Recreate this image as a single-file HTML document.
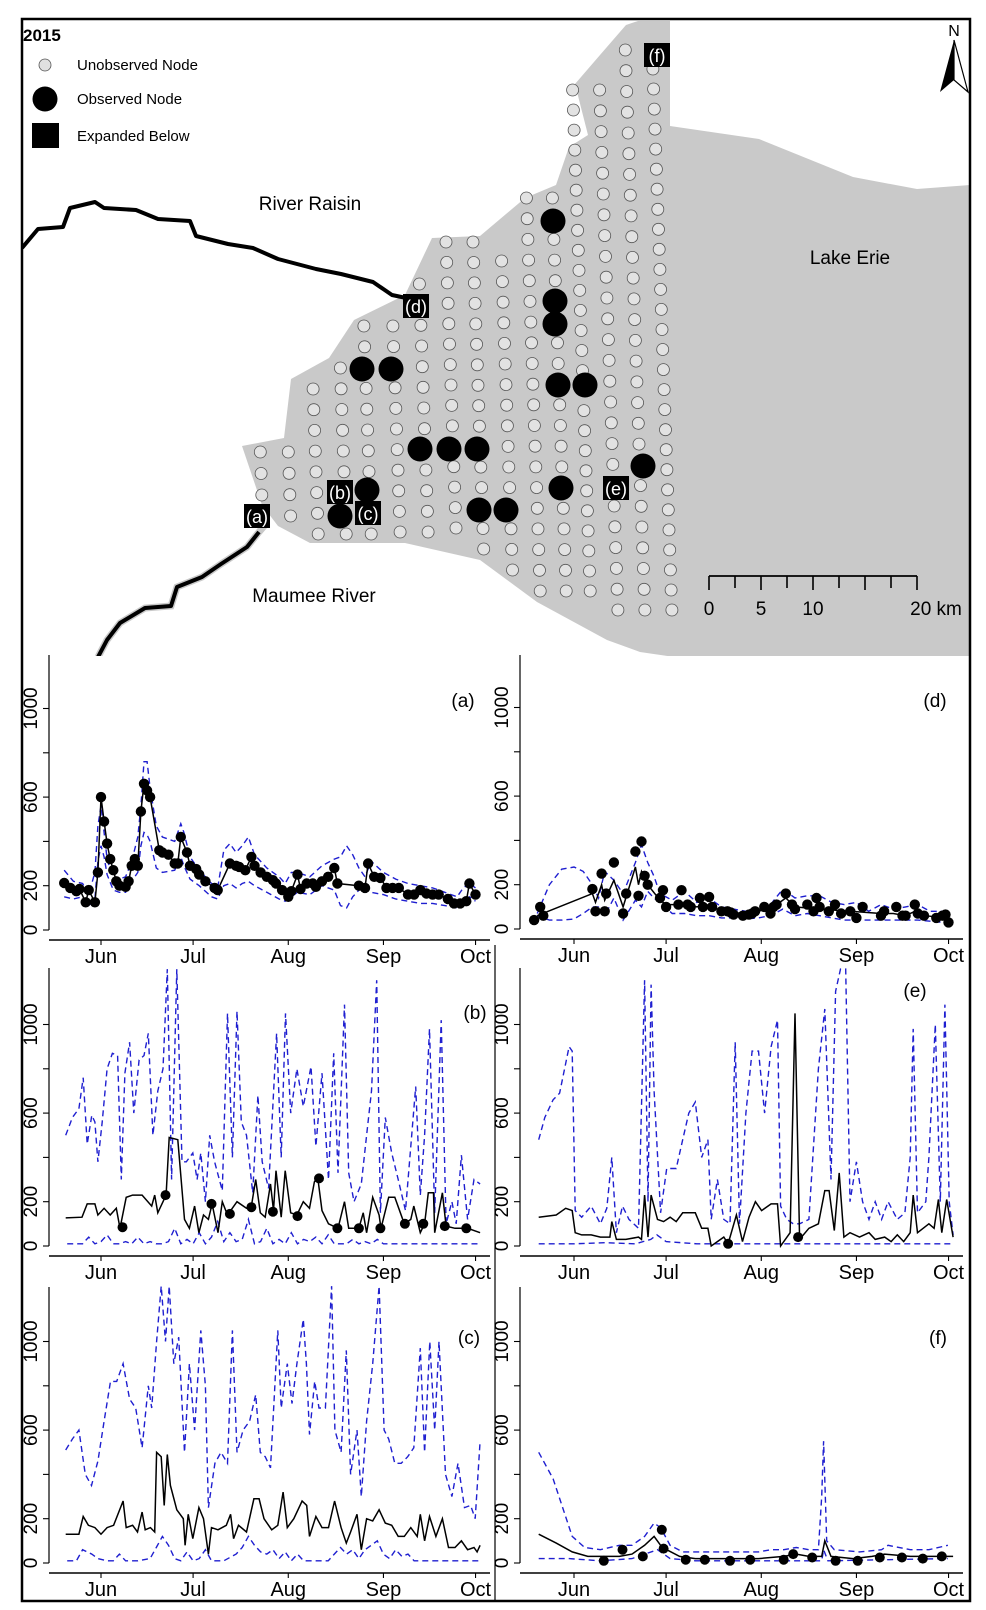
<!DOCTYPE html>
<html><head><meta charset="utf-8">
<style>
html,body{margin:0;padding:0;background:#fff;}
svg{display:block;font-family:"Liberation Sans",sans-serif;}
</style></head>
<body>
<svg id="fig" width="986" height="1610" viewBox="0 0 986 1610" xmlns="http://www.w3.org/2000/svg">
  <defs>
    <clipPath id="mapclip"><rect x="22" y="19" width="948" height="637"/></clipPath>
  </defs>
  <g id="map" clip-path="url(#mapclip)">
    <polygon fill="#c9c9c9" points="626,25 638,21 670,21 670,126 759,139 853,177 917,189 970,185 970,660 695,660 640,652 607,640 537,602 480,560 405,543 354,543 310,543 278,526 262,505 242,446 284,438 291,379 329,358 354,320 405,295 432,238 480,236 525,198 556,185 569,147 588,135 575,84 600,55"/>
    <polyline fill="none" stroke="#c9c9c9" stroke-width="7" points="265,525 259,532 247,547 221,564 202,577 177,587 171,606 145,608 120,623 107,640 98,657"/>
    <polyline fill="none" stroke="#000" stroke-width="4" stroke-linejoin="round" points="22,248 38,229 63,227 70,208 95,202 104,208 136,210 158,219 190,221 196,236 228,244 253,248 278,259 316,269 341,274 373,282 392,295 411,299"/>
    <polyline fill="none" stroke="#000" stroke-width="4" stroke-linejoin="round" points="259,532 247,547 221,564 202,577 177,587 171,606 145,608 120,623 107,640 98,657"/>
    <g id="nodes"></g>
    <g id="labels"></g>
    <text x="23" y="41" font-size="17" font-weight="bold">2015</text>
    <circle cx="45" cy="65" r="6" fill="#e0e0e0" stroke="#555" stroke-width="0.8"/>
    <text x="77" y="70" font-size="15">Unobserved Node</text>
    <circle cx="45" cy="99" r="12.5" fill="#000"/>
    <text x="77" y="104" font-size="15">Observed Node</text>
    <rect x="32" y="123" width="27" height="25" fill="#000"/>
    <text x="77" y="141" font-size="15">Expanded Below</text>
    <text x="310" y="210" font-size="19" text-anchor="middle">River Raisin</text>
    <text x="850" y="264" font-size="19" text-anchor="middle">Lake Erie</text>
    <text x="314" y="602" font-size="19" text-anchor="middle">Maumee River</text>
    <g>
      <line x1="709" y1="576" x2="917" y2="576" stroke="#000" stroke-width="1.8"/>
      <g id="scaleticks"></g>
      <text x="709" y="615" font-size="19" text-anchor="middle">0</text>
      <text x="761" y="615" font-size="19" text-anchor="middle">5</text>
      <text x="813" y="615" font-size="19" text-anchor="middle">10</text>
      <text x="936" y="615" font-size="19" text-anchor="middle">20 km</text>
    </g>
    <g>
      <text x="954" y="36" font-size="16" text-anchor="middle">N</text>
      <polygon points="954,40 940,92 954,80" fill="#000"/>
      <polygon points="954,40 968,92 954,80" fill="#fff" stroke="#000" stroke-width="1.2"/>
    </g>
  </g>
  <g id="charts"></g>
  <line x1="495" y1="945" x2="495" y2="1601" stroke="#000" stroke-width="1.2"/>
  <rect x="22" y="19" width="948" height="1582" fill="none" stroke="#000" stroke-width="2.5"/>
</svg>
<script>
// ---------- chart data (day 0 = Jun 1) ----------
const monthLabels = ["Jun","Jul","Aug","Sep","Oct"];
const monthDays = [0,30,61,92,122];
const yTickValues = [0,200,400,600,800,1000];
const yTickLabels = ["0","200","","600","","1000"];

// (a)
const aDays=[-12,-10,-8,-7,-5,-4,-2,-1,0,1,2,3,4,5,6,8,9,10,11,12,13,14,15,16,19,20,22,24,25,26,28,29,31,32,34,37,38,42,44,45,47,49,50,52,54,56,57,59,61,62,64,65,67,69,70,72,74,76,77,84,86,87,89,91,93,95,97,100,102,104,106,108,110,113,115,117,119,120,122];
const aVals=[212,190,175,185,125,180,125,260,600,490,390,320,270,220,200,195,220,290,320,290,535,660,630,600,360,350,340,300,300,420,350,290,275,250,220,190,180,300,290,285,270,330,290,260,240,225,210,180,150,175,250,185,210,210,195,220,240,280,210,200,190,300,240,235,190,190,190,160,160,180,165,160,160,140,120,120,130,210,160];
const aBandDays=[-12,-9,-6,-4,-2,-1,0,1,2,4,6,8,10,12,13,14,15,16,18,20,24,26,27,29,32,36,38,40,42,44,46,48,50,54,58,60,62,64,68,72,76,78,80,82,84,86,88,92,96,100,104,108,112,116,118,120,122];
const aUp=[270,220,210,160,260,470,560,440,320,230,230,240,310,420,560,760,760,640,470,420,400,480,440,330,270,210,190,360,390,350,380,420,340,280,240,210,260,260,240,290,320,330,380,340,280,240,310,260,230,210,200,190,170,150,190,210,190];
const aLo=[150,140,150,110,140,310,380,330,250,180,170,170,220,260,380,440,430,400,280,260,270,330,290,230,200,150,140,200,210,190,210,220,200,170,140,130,150,170,160,200,180,110,100,150,180,200,170,160,140,130,120,120,110,100,110,150,130];

// (d)
const dLineDays=[-12,6,7,9,10,13,16,20,21,22,24,28,30,35,40,44,48,55,60,65,69,72,80,90,100,104,108,111,114,122];
const dLine=[60,160,120,200,130,220,100,280,200,260,200,130,110,110,100,110,80,70,80,100,140,100,90,80,70,70,60,80,60,50];
const dDays=[-13,-11,-10,6,7,9,10,10.5,13,16,17,20,21,22,23,24,28,29,30,34,35,37,38,41,42,44,45,48,50,51,52,55,57,58,59,62,64,65,66,69,71,72,76,78,79,80,83,85,87,90,92,94,100,101,105,107,108,111,112,114,118,120,121,122];
const dVals=[40,100,60,180,80,250,80,160,300,70,160,350,150,395,240,200,140,175,100,110,175,110,100,140,100,145,100,80,80,75,65,60,65,70,80,100,70,100,110,160,110,90,110,80,140,100,80,110,70,80,50,100,60,80,100,60,60,110,70,60,50,60,65,30];
const dBandDays=[-12,-8,-4,0,3,6,8,10,13,16,20,22,24,26,28,32,36,40,44,48,52,56,60,64,68,72,76,80,84,88,92,96,100,104,108,112,116,120,122];
const dUp=[70,200,270,280,260,200,140,260,220,160,300,380,300,240,160,130,170,120,140,100,90,80,100,110,180,140,150,150,120,110,120,80,110,90,100,110,80,80,60];
const dLo=[60,40,40,45,70,100,100,60,140,40,130,100,170,140,120,70,70,60,60,50,50,45,50,60,90,60,70,60,50,40,40,40,40,40,40,40,35,30,25];

// (b)
const bDays=[-11.5,-6.2,-4.5,-2,-1,1,3,5,6.2,8.2,10.3,13.4,16.5,17.5,18.5,21.2,22.2,25,27.2,28.8,30.5,31.9,33.4,35,36.2,38.1,39.5,41.2,44.3,47.4,49,50.4,51.9,53.5,55.2,56.2,57,58.7,60,61.8,63.8,65.9,67.9,69.5,70.6,72,74.1,77.2,79.3,80.7,84,85.4,86.5,88.5,90.6,91.2,93.7,95.7,98.8,100.9,101.9,104,105.4,106.6,108.3,108.7,111.2,112.4,115.3,119.4,123.5];
const bVals=[127,130,190,190,140,170,140,170,80,220,230,230,180,230,150,230,490,480,120,80,180,60,140,120,190,60,200,140,200,170,180,300,150,130,280,160,340,130,340,150,140,200,170,290,310,160,100,80,200,80,80,150,60,220,140,80,220,220,100,120,180,60,100,240,240,60,240,90,80,80,60];
const bObsDays=[7,21,36,42,49,56,64,71,77,84,91,99,105,112,119];
const bObs=[85,230,190,145,175,155,135,305,80,80,80,100,100,90,80];
const bUpDays=[-11.5,-9.3,-7.2,-5.8,-4.5,-3,-2,-1,0.4,2,3.7,5.4,6.6,7.8,9.3,10.7,12.4,14,15.4,16.9,18.5,20.2,21.6,23,24.7,26.4,27.8,29.9,31.3,32.5,34,35.4,37,39.5,41.2,42.8,44.3,45.7,47.4,49.4,51.1,52.5,54.6,57.2,58.7,60.1,61.8,63.8,65.9,68.4,70,72,74.1,75.8,77.2,79.3,80.7,82.4,84.8,86.5,88.1,89.8,91,92.6,94.7,96.8,99.2,100.9,102.5,104,105.4,107,108.7,110.8,112.4,114.3,115.7,117.4,119.4,121.5,123.5];
const bUp=[500,580,620,760,460,590,560,380,560,800,870,860,300,780,920,600,840,860,960,500,700,800,1250,300,1250,380,380,420,300,420,200,500,380,250,1050,400,1060,560,500,240,680,380,260,960,400,1050,600,800,630,810,450,780,300,870,330,1090,330,200,280,500,700,1200,150,580,420,300,160,450,720,230,500,980,150,1020,100,200,100,410,120,300,280];
const bLoDays=[-11,-6,-4,-2,0,2,4,6,8,10,12,14,16,18,20,22,24,26,28,30,32,34,36,38,40,42,44,46,48,50,52,54,56,58,60,62,64,66,68,70,72,74,76,80,82,84,86,88,90,92,96,100,104,108,112,116,120,123];
const bLo=[10,10,40,10,20,50,10,10,20,10,40,10,20,10,10,20,80,10,30,10,60,10,40,110,20,60,20,30,120,10,20,80,10,30,10,60,10,30,20,40,10,50,10,10,30,10,20,10,30,10,10,10,10,10,10,10,10,10];

// (e)
const eDays=[-11.5,-5.8,-2.7,-0.6,0.4,2.5,5.6,8.6,11.7,12.3,13.8,16.9,21,22,23,24.1,25.1,27.2,29.2,31.3,33.3,35.4,37.4,39.5,41.6,43.6,44.7,46.7,48.8,50.2,52.9,54.9,57,59.1,61.1,64.2,66.3,67.3,70.4,72,73.5,76.5,79.6,81.7,83.1,84.8,86.4,87.9,89.9,93,96.1,98.1,101.2,103.3,105.3,107.4,109.5,110.5,111.9,115.6,117.3,118.7,119.8,121.4,123.5];
const eVals=[130,140,170,160,60,50,50,40,40,110,30,30,40,30,230,40,230,120,110,130,110,150,150,150,80,80,0,20,40,10,140,20,130,200,160,190,190,0,60,1050,30,80,100,250,250,70,330,40,60,40,60,30,40,20,50,20,60,230,60,100,80,210,60,210,40];
const eObsDays=[50.2,73];
const eObs=[10,40];
const eUpDays=[-11.5,-9.5,-6.8,-4.7,-1.6,-0.6,0.4,2.5,5.6,8.6,10.7,12.3,13.8,15.8,17.9,21,23,24.1,25.1,26.1,28.2,30.2,33.3,35.4,37.4,39.5,41.6,43.6,44.7,46.7,48.8,50.8,52.5,53.9,56,58,60.1,62.1,64.2,66.3,67.3,69.3,71.4,73.5,76.5,79.6,81.7,83.7,85.2,86.8,88.5,89.9,92,94,96.1,98.1,100.2,102.3,105.3,107.8,109.5,110.5,111.9,114.6,115.6,117.7,119.3,120.8,122.2,123.5];
const eUp=[480,580,660,690,900,880,160,130,180,100,170,400,60,180,120,80,1200,200,1180,700,150,350,350,480,600,650,400,480,120,300,120,100,920,100,600,880,880,600,900,1020,180,120,100,100,120,800,1070,300,1150,1250,1250,200,380,200,120,200,120,200,120,150,400,980,150,200,400,1000,200,1090,200,50];
const eLoDays=[-11.5,0,10,20,25,27,30,40,60,80,100,123.5];
const eLo=[10,10,15,10,30,50,20,10,10,10,10,10];

// (c)
const cDays=[-11.5,-7.2,-5.8,-4.1,-2,0,2,4.1,7.2,8.2,10.3,11.9,13.4,14.4,16.1,17.5,18.1,19.6,20.6,21.6,22.6,24.7,26.8,27.4,28.4,29.9,31.9,33.4,35,36,38.1,40.8,42.2,43.2,44.8,47.4,49.8,51.5,53.1,55.6,57.6,59.3,60.7,62.8,65.5,67,67.9,70,72,74.1,76.1,78.2,79.9,81.3,83.4,84.8,86.5,88.5,90.6,92.6,94.7,96.8,98.8,100.9,103,104,105.4,107,109.1,111.2,113.2,115.3,117.4,119.4,121.5,122.5,123.5];
const cVals=[130,130,210,170,160,130,160,170,280,160,170,140,230,150,160,140,500,480,260,490,350,240,200,80,220,110,250,200,40,160,150,170,220,110,170,140,290,290,200,150,170,320,160,200,280,260,120,210,160,160,280,160,90,140,220,60,200,190,240,180,170,120,120,160,120,220,100,210,120,200,70,70,100,60,70,50,80];
const cUpDays=[-11.5,-9.3,-7.2,-5.1,-3.1,-1,1,3.1,5.1,7.2,9.3,11.3,13.4,15.4,16.5,18.1,19.6,21,22.2,23.7,25.3,27.2,28.8,30.5,32.5,34,35,37.1,39.1,41.2,42.8,44.3,46.3,48.4,50.4,51.9,53.5,55.2,57.6,58.7,60.7,62.2,63.8,65.9,66.9,67.9,69.6,71,73.1,75.1,76.2,78.2,79.9,81.3,83.4,84.8,86.5,88.5,90.6,92.2,93.7,95.7,97.8,99.9,101.9,104,105.4,107.1,108.7,110.1,112.2,114.3,116.3,118.4,120.4,121.9,123.5];
const cUp=[510,560,600,400,350,460,640,820,820,900,740,700,520,800,700,1000,1250,1000,1250,900,1020,500,900,600,1050,800,250,450,500,450,1050,500,600,640,760,500,480,430,1050,700,900,720,900,1100,900,580,820,700,700,1250,600,500,960,400,600,300,640,900,1250,600,560,450,450,480,520,970,500,1000,600,1000,400,300,450,250,260,200,550];
const cLoDays=[-11,-8,-6,-3,-1,2,4,6,8,12,16,18,20,22,24,26,28,30,32,34,36,40,44,46,48,50,52,54,56,58,60,62,64,66,70,74,76,78,80,82,84,86,88,90,92,94,96,98,100,102,104,108,112,116,120,123];
const cLo=[10,10,60,40,20,10,10,40,10,10,20,70,120,80,20,10,50,10,20,60,10,10,40,70,120,80,50,40,60,20,50,10,40,10,10,10,40,70,40,60,20,60,80,100,40,20,60,30,40,10,10,10,10,10,10,10];

// (f)
const fDays=[-11.5,-5.8,-0.6,4.5,9.7,14.8,18.9,23,26.1,28.2,30.2,34.4,39.5,49.8,60.1,68.3,72.4,76.5,80.7,81.7,83.7,90.9,97.1,101.2,109.5,123.5];
const fVals=[130,90,50,30,30,30,40,80,120,80,60,30,20,20,20,30,40,30,30,100,30,20,30,40,30,30];
const fObsDays=[9.7,15.8,22.4,28.6,29.2,36.4,42.6,50.8,57.4,68.3,71.4,77.6,85.2,92.4,99.6,106.8,113.6,119.8];
const fObs=[10,60,30,150,65,15,15,10,15,15,40,25,10,10,25,25,20,30];
const fUpDays=[-11.5,-6.8,-0.6,3.5,8.6,14.8,18.9,23,26.1,28.2,31.3,35.4,43.6,51.9,60.1,64.2,68.3,72.4,76.5,79.6,80.7,81.3,82.3,84.8,93,100.2,102.3,109.5,115.6,121.8];
const fUp=[500,380,120,70,60,80,80,120,180,160,80,50,50,50,50,60,60,70,60,60,300,550,100,60,50,60,80,60,60,80];
const fLoDays=[-11.5,-1.6,8.6,18.9,27.2,31.3,39.5,80.7,81.3,82.7,121.8];
const fLo=[20,20,10,20,60,20,10,10,60,10,20];

// ---------- map node layout ----------
const colX=[255,283,310,338,363,392,420,448,475,503,530,556,580,607,634,661];
const colTop=[452,452,389,368,326,326,284,242,242,261,198,198,90,90,50,69];
const colBot=[495,516,534,534,534,532,532,528,549,570,591,591,591,610,610,610];
const observedNodes=[[553,221],[555,301],[555,324],[362,369],[391,369],[558,385],[585,385],[420,449],[449,449],[477,449],[643,466],[561,488],[367,490],[340,516],[479,510],[506,510]];
const siteLabels=[["(a)",257,516],["(b)",340,492],["(c)",368,513],["(d)",416,306],["(e)",616,488],["(f)",657,55]];

const NS="http://www.w3.org/2000/svg";
function mk(parent, tag, attrs, name){
  const el=document.createElementNS(NS,tag);
  for(const k in attrs) el.setAttribute(k,attrs[k]);
  
  
  parent.appendChild(el);
  return el;
}

// nodes
const nodesG=document.getElementById('nodes');
for(let c=0;c<colX.length;c++){
  const n=Math.round((colBot[c]-colTop[c])/20.4)+1;
  const step=n>1?(colBot[c]-colTop[c])/(n-1):0;
  for(let r=0;r<n;r++){
    const y=colTop[c]+r*step;
    const x=colX[c]+0.035*(y-300);
    mk(nodesG,'circle',{cx:x.toFixed(1),cy:y.toFixed(1),r:6,fill:'#e2e2e2',stroke:'#555','stroke-width':0.8},'unobserved-node');
  }
}
for(const p of observedNodes){
  mk(nodesG,'circle',{cx:p[0],cy:p[1],r:12.5,fill:'#000'},'observed-node');
}
const labG=document.getElementById('labels');
for(const s of siteLabels){
  mk(labG,'rect',{x:s[1]-13,y:s[2]-12,width:26,height:24,fill:'#000'},'site-label-box');
  const t=mk(labG,'text',{x:s[1],y:s[2]+7,'font-size':18,fill:'#fff','text-anchor':'middle'},'site-label');
  t.textContent=s[0];
}
const stG=document.getElementById('scaleticks');
for(let i=0;i<=8;i++){
  const x=709+i*26;
  mk(stG,'line',{x1:x,y1:576,x2:x,y2:(i%2===0?590:588),stroke:'#000','stroke-width':1.6},'scale-tick');
}

// ---------- charts ----------
const panels=[
  {id:'a',x0:101,axisX:49,endX:490,zero:930,top:655,label:[463,700],
   bands:[[aBandDays,aUp],[aBandDays,aLo]],line:[aDays,aVals],obs:[aDays,aVals],dotR:5.2},
  {id:'d',x0:574,axisX:520,endX:963,zero:929,top:655,label:[935,700],
   bands:[[dBandDays,dUp],[dBandDays,dLo]],line:[dLineDays,dLine],obs:[dDays,dVals],dotR:5.2},
  {id:'b',x0:101,axisX:49,endX:490,zero:1246,top:968,label:[475,1012],
   bands:[[bUpDays,bUp],[bLoDays,bLo]],line:[bDays,bVals],obs:[bObsDays,bObs],dotR:5},
  {id:'e',x0:574,axisX:520,endX:963,zero:1246,top:968,label:[915,990],
   bands:[[eUpDays,eUp],[eLoDays,eLo]],line:[eDays,eVals],obs:[eObsDays,eObs],dotR:5},
  {id:'c',x0:101,axisX:49,endX:490,zero:1563,top:1287,label:[469,1337],
   bands:[[cUpDays,cUp],[cLoDays,cLo]],line:[cDays,cVals],obs:null,dotR:5},
  {id:'f',x0:574,axisX:520,endX:963,zero:1563,top:1287,label:[938,1337],
   bands:[[fUpDays,fUp],[fLoDays,fLo]],line:[fDays,fVals],obs:[fObsDays,fObs],dotR:5}
];
const PXDAY=3.07, PXUNIT=0.2215;
const charts=document.getElementById('charts');
const defs=document.querySelector('defs');
for(const p of panels){
  const xs=d=>p.x0+PXDAY*d;
  const ys=v=>p.zero-PXUNIT*v;
  const g=mk(charts,'g',{},'panel-'+p.id);
  const cp=document.createElementNS(NS,'clipPath');
  cp.setAttribute('id','clip-'+p.id);
  const cr=document.createElementNS(NS,'rect');
  cr.setAttribute('x',p.axisX+1);cr.setAttribute('y',p.top-6);
  cr.setAttribute('width',p.endX-p.axisX);cr.setAttribute('height',p.zero-p.top+14);
  cp.appendChild(cr);defs.appendChild(cp);
  // axes
  mk(g,'line',{x1:p.axisX,y1:p.top,x2:p.axisX,y2:p.zero,stroke:'#000','stroke-width':1.2},'y-axis');
  mk(g,'line',{x1:p.axisX,y1:p.zero+10,x2:p.endX,y2:p.zero+10,stroke:'#000','stroke-width':1.4},'x-axis');
  for(let i=0;i<yTickValues.length;i++){
    const y=ys(yTickValues[i]);
    mk(g,'line',{x1:p.axisX-6,y1:y,x2:p.axisX,y2:y,stroke:'#000','stroke-width':1.1},'y-tick');
    if(yTickLabels[i]){
      const lx=p.axisX-12;
      const t=mk(g,'text',{x:lx,y:y,'font-size':19,'text-anchor':'middle',transform:'rotate(-90 '+lx+' '+y+')'},'y-tick-label');
      t.textContent=yTickLabels[i];
    }
  }
  for(let i=0;i<monthDays.length;i++){
    const x=xs(monthDays[i]);
    mk(g,'line',{x1:x,y1:p.zero+10,x2:x,y2:p.zero+15,stroke:'#000','stroke-width':1.1},'x-tick');
    const t=mk(g,'text',{x:x,y:p.zero+33,'font-size':20,'text-anchor':'middle'},'x-tick-label');
    t.textContent=monthLabels[i];
  }
  const pl=mk(g,'text',{x:p.label[0],y:p.label[1]+7,'font-size':19,'text-anchor':'middle'},'panel-label');
  pl.textContent='('+p.id+')';
  const pg=mk(g,'g',{'clip-path':'url(#clip-'+p.id+')'},'plot-area');
  p.bands.forEach((b,bi)=>{
    const pts=b[0].map((d,i)=>xs(d).toFixed(1)+','+ys(b[1][i]).toFixed(1)).join(' ');
    mk(pg,'polyline',{points:pts,fill:'none',stroke:'#1f1fd0','stroke-width':1.4,'stroke-dasharray':'6,4'},bi===0?'upper-bound-line':'lower-bound-line');
  });
  const lp=p.line[0].map((d,i)=>xs(d).toFixed(1)+','+ys(p.line[1][i]).toFixed(1)).join(' ');
  mk(pg,'polyline',{points:lp,fill:'none',stroke:'#000','stroke-width':1.5},'model-line');
  if(p.obs){
    p.obs[0].forEach((d,i)=>{
      mk(pg,'circle',{cx:xs(d).toFixed(1),cy:ys(p.obs[1][i]).toFixed(1),r:p.dotR,fill:'#000'},'observed-point');
    });
  }
}
</script>
</body></html>
